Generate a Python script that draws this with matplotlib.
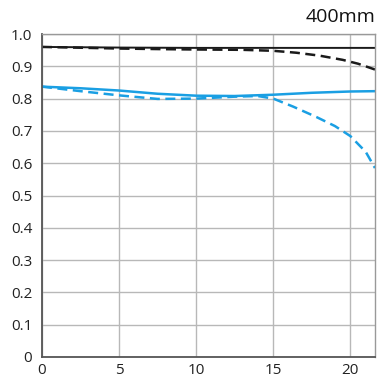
import matplotlib
matplotlib.use("Agg")
import matplotlib.pyplot as plt
import numpy as np

# Data (image height in mm vs. MTF)
x_black_solid = [0, 5, 10, 15, 20, 21.6]
y_black_solid = [0.960, 0.958, 0.957, 0.957, 0.957, 0.957]

x_black_dash = [0, 3, 5, 8, 10, 13, 15, 16.5, 18, 19.5, 20.5, 21.6]
y_black_dash = [0.960, 0.957, 0.955, 0.953, 0.952, 0.951, 0.948, 0.942, 0.933, 0.920, 0.908, 0.890]

x_blue_solid = [0, 2.5, 5, 7.5, 10, 12.5, 15, 17.5, 20, 21.6]
y_blue_solid = [0.837, 0.832, 0.825, 0.815, 0.809, 0.808, 0.812, 0.818, 0.822, 0.823]

x_blue_dash = [0, 2.5, 5, 7.5, 10, 12.5, 14, 15, 16.3, 17.8, 19, 20, 21, 21.6]
y_blue_dash = [0.837, 0.823, 0.810, 0.799, 0.800, 0.806, 0.808, 0.800, 0.775, 0.743, 0.715, 0.684, 0.635, 0.585]

x_ticks = [0, 5, 10, 15, 20]
y_ticks = [0, 0.1, 0.2, 0.3, 0.4, 0.5, 0.6, 0.7, 0.8, 0.9, 1.0]
y_labels = ["0", "0.1", "0.2", "0.3", "0.4", "0.5", "0.6", "0.7", "0.8", "0.9", "1.0"]
title = "400mm"

plt.rcParams['font.family'] = ['Open Sans', 'DejaVu Sans']

fig = plt.figure(figsize=(3.87, 3.79), dpi=100)
ax = fig.add_axes([42/387, 1-357/379, (375-42)/387, (357-34)/379])

blue = "#1a9fe3"
ax.plot(x_black_solid, y_black_solid, color="#1a1a1a", lw=1.4, solid_capstyle="butt")
ax.plot(x_black_dash, y_black_dash, color="#1a1a1a", lw=1.8, dashes=(4, 2.2))
ax.plot(x_blue_solid, y_blue_solid, color=blue, lw=1.8)
ax.plot(x_blue_dash, y_blue_dash, color=blue, lw=1.8, dashes=(4, 2.2))

ax.set_xlim(0, 21.6)
ax.set_ylim(0, 1.0)
ax.set_xticks(x_ticks)
ax.set_yticks(y_ticks)
ax.set_yticklabels(y_labels)
ax.grid(True, color="#b8b8b8", lw=1.0)
ax.set_axisbelow(True)
ax.tick_params(length=0, labelsize=11, colors="#222222")
ax.tick_params(axis="y", pad=7)
ax.tick_params(axis="x", pad=4)
for s in ["left", "bottom"]:
    ax.spines[s].set_color("#555555")
    ax.spines[s].set_linewidth(1.3)
for s in ["top", "right"]:
    ax.spines[s].set_color("#999999")
    ax.spines[s].set_linewidth(1.0)

fig.text(375/387, 1-17/379, title, ha="right", va="center", fontsize=14, color="#111111")

fig.savefig("out.png", dpi=100)
